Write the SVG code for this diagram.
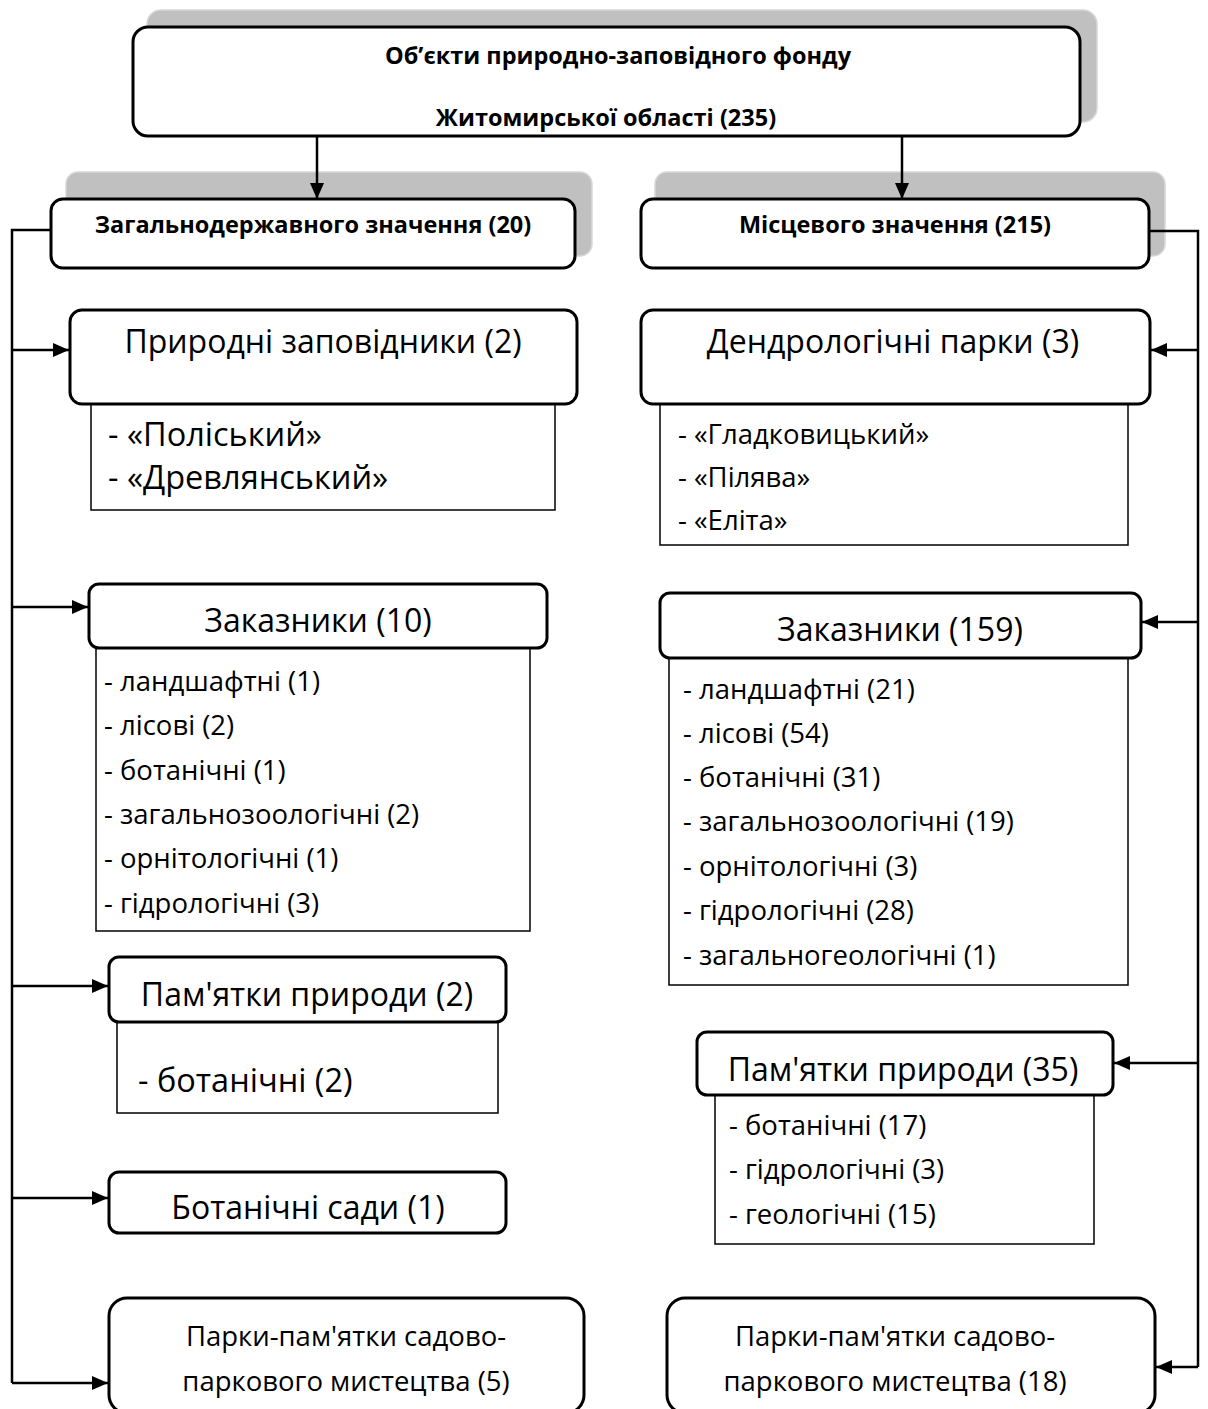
<svg xmlns="http://www.w3.org/2000/svg" width="1208" height="1409" viewBox="0 0 1208 1409">
<style>
  text { font-family: "Open Sans", "Noto Sans", "DejaVu Sans", sans-serif; fill: #000; }
  .b { font-weight: bold; font-size: 23.5px; text-anchor: middle; }
  .h { font-size: 32px; text-anchor: middle; }
  .h2 { font-size: 27.5px; text-anchor: middle; }
  .i { font-size: 27.5px; }
  .ib { font-size: 32.5px; }
  .box { fill: #fff; stroke: #000; stroke-width: 3; }
  .sub { fill: #fff; stroke: #000; stroke-width: 1.5; }
  .shadow { fill: #c0c0c0; stroke: #d8d8d8; stroke-width: 1.5; }
  .conn { fill: none; stroke: #000; stroke-width: 2.5; }
</style>
<defs>
  <marker id="arr" viewBox="0 0 16 14" refX="16" refY="7" markerWidth="16" markerHeight="14" markerUnits="userSpaceOnUse" orient="auto">
    <path d="M0,0 L16,7 L0,14 Z" fill="#000"/>
  </marker>
</defs>
<rect width="1208" height="1409" fill="#fff"/>

<g id="root">
  <rect class="shadow" x="147" y="10" width="950" height="112" rx="14"/>
  <rect class="box" x="133" y="27" width="947" height="109" rx="15"/>
  <text class="b" x="618" y="64">Об’єкти природно-заповідного фонду</text>
  <text class="b" x="606" y="126">Житомирської області (235)</text>
</g>

<g id="national">
  <rect class="shadow" x="66" y="172" width="526" height="84" rx="12"/>
  <rect class="box" x="51" y="199" width="524" height="69" rx="12"/>
  <text class="b" x="313" y="233">Загальнодержавного значення (20)</text>
</g>

<g id="local">
  <rect class="shadow" x="655" y="172" width="510" height="84" rx="12"/>
  <rect class="box" x="641" y="199" width="508" height="69" rx="12"/>
  <text class="b" x="895" y="233">Місцевого значення (215)</text>
</g>

<g id="l-zapovidnyky">
  <rect class="sub" x="91" y="404" width="464" height="106"/>
  <rect class="box" x="70" y="310" width="507" height="94" rx="12"/>
  <text class="h" x="323" y="353">Природні заповідники (2)</text>
  <text class="ib" x="108" y="446">- «Поліський»</text>
  <text class="ib" x="108" y="489">- «Древлянський»</text>
</g>

<g id="l-zakaznyky">
  <rect class="sub" x="96" y="648" width="434" height="283"/>
  <rect class="box" x="89" y="584" width="458" height="64" rx="10"/>
  <text class="h" x="318" y="632">Заказники (10)</text>
  <text class="i" x="104" y="691">- ландшафтні (1)</text>
  <text class="i" x="104" y="735">- лісові (2)</text>
  <text class="i" x="104" y="780">- ботанічні (1)</text>
  <text class="i" x="104" y="824">- загальнозоологічні (2)</text>
  <text class="i" x="104" y="868">- орнітологічні (1)</text>
  <text class="i" x="104" y="913">- гідрологічні (3)</text>
</g>

<g id="l-pamyatky">
  <rect class="sub" x="117" y="1022" width="381" height="91"/>
  <rect class="box" x="109" y="957" width="397" height="65" rx="10"/>
  <text class="h" x="307" y="1006">Пам'ятки природи (2)</text>
  <text class="ib" x="138" y="1092">- ботанічні (2)</text>
</g>

<g id="l-sady">
  <rect class="box" x="109" y="1172" width="397" height="61" rx="10"/>
  <text class="h" x="308" y="1219">Ботанічні сади (1)</text>
</g>

<g id="l-parky">
  <rect class="box" x="109" y="1298" width="475" height="115" rx="18"/>
  <text class="h2" x="346" y="1346">Парки-пам'ятки садово-</text>
  <text class="h2" x="346" y="1391">паркового мистецтва (5)</text>
</g>

<g id="r-dendro">
  <rect class="sub" x="660" y="404" width="468" height="141"/>
  <rect class="box" x="641" y="310" width="509" height="94" rx="12"/>
  <text class="h" x="893" y="353">Дендрологічні парки (3)</text>
  <text class="i" x="678" y="444">- «Гладковицький»</text>
  <text class="i" x="678" y="487">- «Пілява»</text>
  <text class="i" x="678" y="530">- «Еліта»</text>
</g>

<g id="r-zakaznyky">
  <rect class="sub" x="669" y="658" width="459" height="327"/>
  <rect class="box" x="660" y="593" width="481" height="65" rx="10"/>
  <text class="h" x="900" y="641">Заказники (159)</text>
  <text class="i" x="683" y="699">- ландшафтні (21)</text>
  <text class="i" x="683" y="743">- лісові (54)</text>
  <text class="i" x="683" y="787">- ботанічні (31)</text>
  <text class="i" x="683" y="831">- загальнозоологічні (19)</text>
  <text class="i" x="683" y="876">- орнітологічні (3)</text>
  <text class="i" x="683" y="920">- гідрологічні (28)</text>
  <text class="i" x="683" y="965">- загальногеологічні (1)</text>
</g>

<g id="r-pamyatky">
  <rect class="sub" x="715" y="1095" width="379" height="149"/>
  <rect class="box" x="697" y="1032" width="416" height="63" rx="10"/>
  <text class="h" x="903" y="1081">Пам'ятки природи (35)</text>
  <text class="i" x="729" y="1135">- ботанічні (17)</text>
  <text class="i" x="729" y="1179">- гідрологічні (3)</text>
  <text class="i" x="729" y="1224">- геологічні (15)</text>
</g>

<g id="r-parky">
  <rect class="box" x="667" y="1298" width="488" height="115" rx="18"/>
  <text class="h2" x="895" y="1346">Парки-пам'ятки садово-</text>
  <text class="h2" x="895" y="1391">паркового мистецтва (18)</text>
</g>

<g id="connectors">
  <line class="conn" x1="317" y1="137" x2="317" y2="199" marker-end="url(#arr)"/>
  <line class="conn" x1="902" y1="137" x2="902" y2="199" marker-end="url(#arr)"/>
  <path class="conn" d="M50,230 H12 V1383"/>
  <line class="conn" x1="12" y1="350" x2="69" y2="350" marker-end="url(#arr)"/>
  <line class="conn" x1="12" y1="607" x2="88" y2="607" marker-end="url(#arr)"/>
  <line class="conn" x1="12" y1="986" x2="108" y2="986" marker-end="url(#arr)"/>
  <line class="conn" x1="12" y1="1198" x2="108" y2="1198" marker-end="url(#arr)"/>
  <line class="conn" x1="12" y1="1383" x2="108" y2="1383" marker-end="url(#arr)"/>
  <path class="conn" d="M1150,231 H1198 V1367"/>
  <line class="conn" x1="1198" y1="350" x2="1151" y2="350" marker-end="url(#arr)"/>
  <line class="conn" x1="1198" y1="622" x2="1142" y2="622" marker-end="url(#arr)"/>
  <line class="conn" x1="1198" y1="1063" x2="1114" y2="1063" marker-end="url(#arr)"/>
  <line class="conn" x1="1198" y1="1367" x2="1156" y2="1367" marker-end="url(#arr)"/>
</g>
</svg>
